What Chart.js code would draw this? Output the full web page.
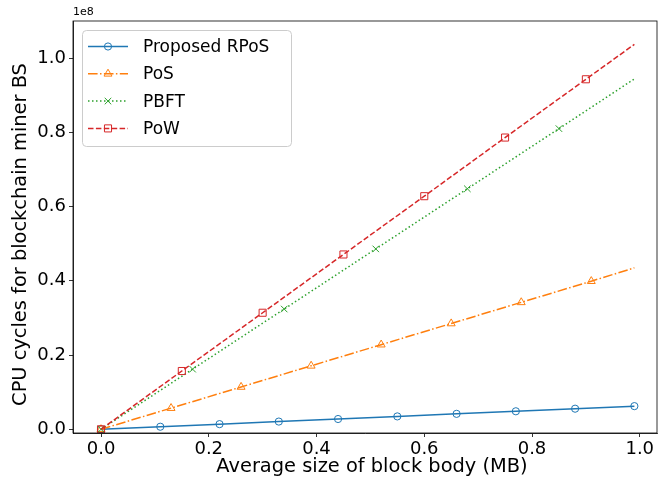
<!DOCTYPE html>
<html>
<head>
<meta charset="utf-8">
<script src="https://cdn.jsdelivr.net/npm/chart.js@4/dist/chart.umd.min.js"></script>
<style>
html,body{margin:0;padding:0;background:#fff;}
#wrap{width:659px;height:487px;position:relative;}
</style>
</head>
<body>
<div id="wrap"><canvas id="c" width="659" height="487"></canvas></div>
<script>
// ---- data ----
const seriesNames = ["Proposed RPoS", "PoS", "PBFT", "PoW"];
const rposX = [0, 0.11, 0.22, 0.33, 0.44, 0.55, 0.66, 0.77, 0.88, 0.99];
const rposY = [0, 0.69e6, 1.39e6, 2.08e6, 2.77e6, 3.47e6, 4.16e6, 4.85e6, 5.55e6, 6.24e6];
const posX  = [0, 0.13, 0.26, 0.39, 0.52, 0.65, 0.78, 0.91, 0.99];
const posY  = [0, 5.7e6, 11.4e6, 17.1e6, 22.8e6, 28.5e6, 34.2e6, 39.9e6, 43.5e6];
const pbftX = [0, 0.17, 0.34, 0.51, 0.68, 0.85, 0.99];
const pbftY = [0, 16.2e6, 32.4e6, 48.6e6, 64.8e6, 81.0e6, 94.4e6];
const powX  = [0, 0.15, 0.30, 0.45, 0.60, 0.75, 0.90, 0.99];
const powY  = [0, 15.7e6, 31.4e6, 47.1e6, 62.8e6, 78.6e6, 94.3e6, 103.7e6];
const endHasMarker = [true, false, false, false];
const xTicks = [0, 0.2, 0.4, 0.6, 0.8, 1.0];
const yTicks = [0, 0.2e8, 0.4e8, 0.6e8, 0.8e8, 1.0e8];
const xTitle = "Average size of block body (MB)";
const yTitle = "CPU cycles for blockchain miner BS";
const offsetText = "1e8";

// ---- styles ----
const FONT = "'DejaVu Sans', sans-serif";
const colors = ["#1f77b4", "#ff7f0e", "#2ca02c", "#d62728"];
const dashes = [[], [9.6, 2.4, 1.5, 2.4], [1.5, 2.5], [5.5, 2.4]];
const pstyles = ["circle", "triangle", "crossRot", "rect"];
const pradius = [3.6, 4.6, 4.6, 5.0];

const xsAll = [rposX, posX, pbftX, powX];
const ysAll = [rposY, posY, pbftY, powY];

function pts(xs, ys){ return xs.map((x,i)=>({x:x, y:ys[i]})); }

const datasets = seriesNames.map((name, k) => ({
  label: name,
  data: pts(xsAll[k], ysAll[k]),
  borderColor: colors[k],
  borderWidth: 1.5,
  borderDash: dashes[k],
  pointStyle: pstyles[k],
  pointRadius: ctx => (ctx.dataIndex === xsAll[k].length - 1 && !endHasMarker[k]) ? 0 : pradius[k],
  pointBorderColor: colors[k],
  pointBackgroundColor: 'rgba(0,0,0,0)',
  pointBorderWidth: 1,
  pointHoverRadius: 0,
  tension: 0,
  fill: false,
  order: 3 - k
}));

function drawMarker(ctx, style, x, y, r, color){
  ctx.save();
  ctx.setLineDash([]);
  ctx.strokeStyle = color;
  ctx.lineWidth = 1;
  ctx.beginPath();
  if (style === 'circle') {
    ctx.arc(x, y, r, 0, Math.PI*2);
  } else if (style === 'triangle') {
    ctx.moveTo(x, y - r);
    ctx.lineTo(x + r*Math.sin(Math.PI*2/3), y - r*Math.cos(Math.PI*2/3));
    ctx.lineTo(x - r*Math.sin(Math.PI*2/3), y - r*Math.cos(Math.PI*2/3));
    ctx.closePath();
  } else if (style === 'crossRot') {
    const o = r*Math.SQRT1_2;
    ctx.moveTo(x-o, y-o); ctx.lineTo(x+o, y+o);
    ctx.moveTo(x-o, y+o); ctx.lineTo(x+o, y-o);
  } else if (style === 'rect') {
    const s = r*Math.SQRT1_2;
    ctx.rect(x-s, y-s, 2*s, 2*s);
  }
  ctx.stroke();
  ctx.restore();
}

function roundRect(ctx, x, y, w, h, r){
  ctx.beginPath();
  ctx.moveTo(x+r, y);
  ctx.lineTo(x+w-r, y); ctx.arcTo(x+w, y, x+w, y+r, r);
  ctx.lineTo(x+w, y+h-r); ctx.arcTo(x+w, y+h, x+w-r, y+h, r);
  ctx.lineTo(x+r, y+h); ctx.arcTo(x, y+h, x, y+h-r, r);
  ctx.lineTo(x, y+r); ctx.arcTo(x, y, x+r, y, r);
  ctx.closePath();
}

const framePlugin = {
  id: 'frame',
  afterDraw(chart){
    const ctx = chart.ctx, a = chart.chartArea;
    ctx.save();
    ctx.strokeStyle = '#000';
    ctx.lineWidth = 0.8;
    ctx.setLineDash([]);
    ctx.strokeRect(a.left, a.top, a.right - a.left, a.bottom - a.top);
    ctx.fillStyle = '#000';
    ctx.font = "11px " + FONT;
    ctx.textAlign = 'left';
    ctx.textBaseline = 'bottom';
    ctx.fillText(offsetText, a.left, a.top - 3);
    // axis titles
    ctx.font = "19.4px " + FONT;
    ctx.textAlign = 'center';
    ctx.textBaseline = 'middle';
    ctx.fillText(xTitle, 372, 467);
    ctx.save();
    ctx.translate(21, 234.5);
    ctx.rotate(-Math.PI/2);
    ctx.fillText(yTitle, 0, 0);
    ctx.restore();
    // legend
    const lx = 82, ly = 30, lw = 209, lh = 116;
    roundRect(ctx, lx + 0.5, ly + 0.5, lw, lh, 4);
    ctx.fillStyle = 'rgba(255,255,255,0.8)';
    ctx.fill();
    ctx.strokeStyle = '#cccccc';
    ctx.lineWidth = 1;
    ctx.stroke();
    ctx.font = "17px " + FONT;
    ctx.textAlign = 'left';
    ctx.textBaseline = 'middle';
    ctx.fillStyle = '#000';
    seriesNames.forEach((name, k) => {
      const yy = 46.5 + k*27.3;
      ctx.save();
      ctx.strokeStyle = colors[k];
      ctx.lineWidth = 1.5;
      ctx.setLineDash(dashes[k]);
      ctx.beginPath();
      ctx.moveTo(88, yy); ctx.lineTo(128, yy);
      ctx.stroke();
      ctx.restore();
      drawMarker(ctx, pstyles[k], 108, yy, pradius[k], colors[k]);
      ctx.fillStyle = '#000';
      ctx.fillText(name, 143, yy + 1);
    });
    ctx.restore();
  }
};

new Chart(document.getElementById('c'), {
  type: 'line',
  data: { datasets },
  options: {
    responsive: false,
    animation: false,
    devicePixelRatio: 1,
    layout: { autoPadding: false, padding: { left: 0, right: 2, top: 21, bottom: 0 } },
    plugins: { legend: { display: false }, tooltip: { enabled: false } },
    scales: {
      x: {
        type: 'linear',
        min: -0.052, max: 1.032,
        afterBuildTicks: ax => { ax.ticks = xTicks.map(v => ({value: v})); },
        afterFit: sc => { sc.height = 54; sc.paddingLeft = 0; sc.paddingRight = 0; },
        ticks: {
          color: '#000', font: { family: FONT, size: 18 }, padding: 2,
          callback: v => Number(v).toFixed(1), maxRotation: 0, autoSkip: false
        },
        grid: { drawOnChartArea: false, drawTicks: true, tickLength: 4, color: '#000', lineWidth: 0.8 },
        border: { display: true, color: '#000', width: 0.8 },
        title: { display: false }
      },
      y: {
        type: 'linear',
        min: -1e6, max: 1.1e8,
        afterBuildTicks: ax => { ax.ticks = yTicks.map(v => ({value: v})); },
        afterFit: sc => { sc.width = 73; sc.paddingTop = 0; sc.paddingBottom = 0; },
        ticks: {
          color: '#000', font: { family: FONT, size: 18 }, padding: 3,
          callback: v => (Number(v)/1e8).toFixed(1), autoSkip: false
        },
        grid: { drawOnChartArea: false, drawTicks: true, tickLength: 4, color: '#000', lineWidth: 0.8 },
        border: { display: true, color: '#000', width: 0.8 },
        title: { display: false }
      }
    }
  },
  plugins: [framePlugin]
});
</script>
</body>
</html>
